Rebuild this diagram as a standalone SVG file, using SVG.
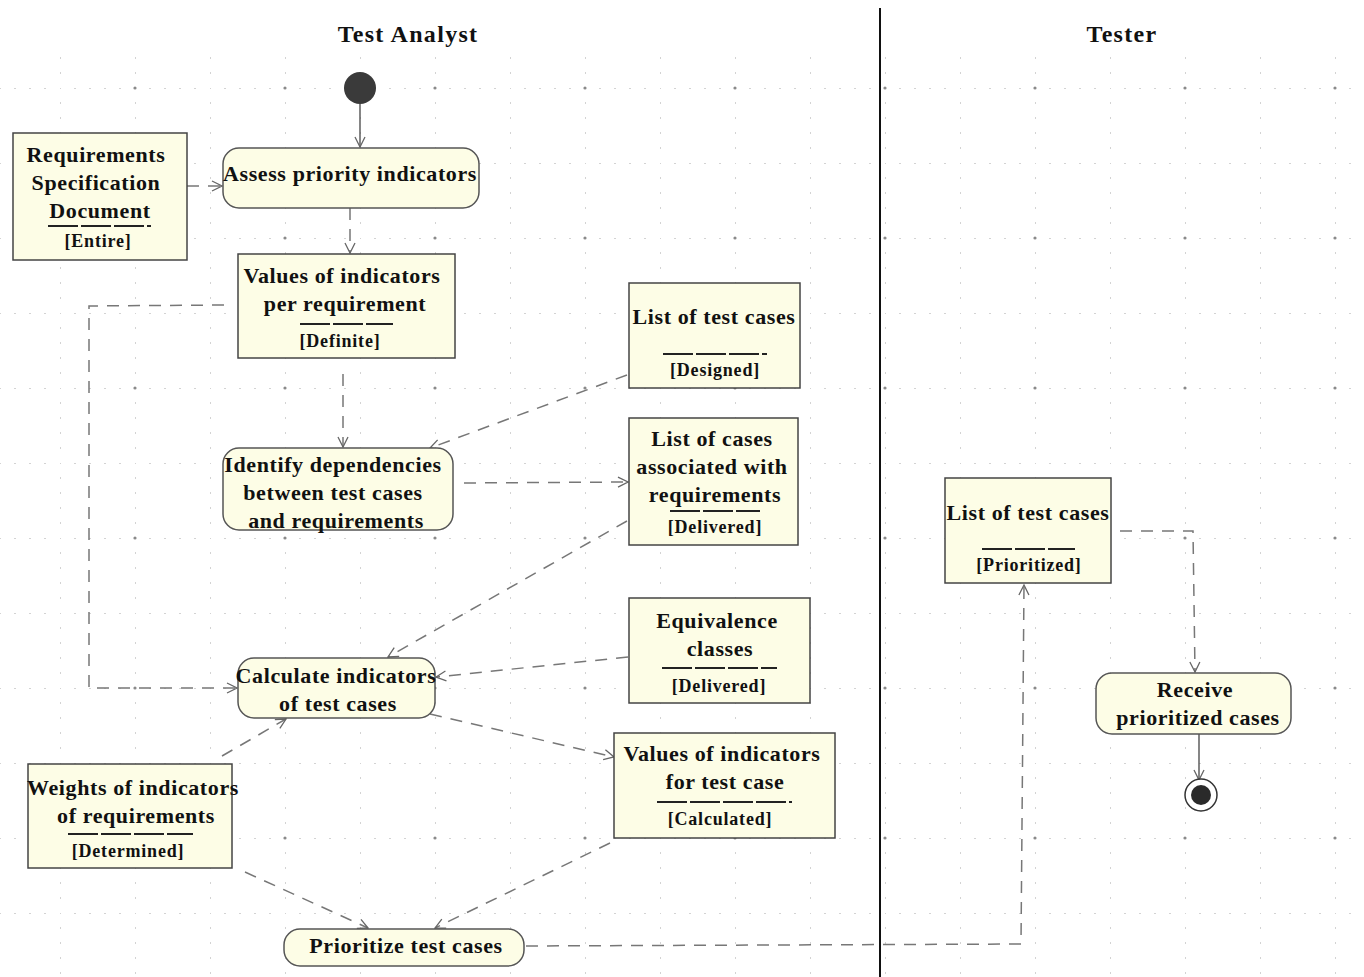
<svg xmlns="http://www.w3.org/2000/svg" width="1364" height="977" viewBox="0 0 1364 977">
<style>
.bg{fill:#ffffff}
.act{fill:#fdfde6;stroke:#555;stroke-width:1.5}
.obj{fill:#fdfde6;stroke:#444;stroke-width:1.5}
.t{font-family:"Liberation Serif","Times New Roman",serif;font-weight:bold;font-size:22px;letter-spacing:0.6px;fill:#111;text-anchor:middle}
.s{font-family:"Liberation Serif","Times New Roman",serif;font-weight:bold;font-size:18px;letter-spacing:0.8px;fill:#111;text-anchor:middle}
.title{font-family:"Liberation Serif","Times New Roman",serif;font-weight:bold;font-size:24px;letter-spacing:1.3px;fill:#111;text-anchor:middle}
.sep{stroke:#222;stroke-width:2;stroke-dasharray:30 3}
.flow{fill:none;stroke:#777;stroke-width:1.5;stroke-dasharray:12 9}
.ctrl{fill:none;stroke:#444;stroke-width:1.3}
</style>
<defs>
<pattern id="grid" x="60" y="13" width="75" height="75" patternUnits="userSpaceOnUse">
<g fill="#bdbdbd">
<circle cx="0" cy="0" r="0.9"/><circle cx="15" cy="0" r="0.9"/><circle cx="30" cy="0" r="0.9"/><circle cx="45" cy="0" r="0.9"/><circle cx="60" cy="0" r="0.9"/>
<circle cx="0" cy="15" r="0.9"/><circle cx="0" cy="30" r="0.9"/><circle cx="0" cy="45" r="0.9"/><circle cx="0" cy="60" r="0.9"/>
</g>
</pattern>
<pattern id="major" x="135" y="88" width="150" height="150" patternUnits="userSpaceOnUse">
<circle cx="0" cy="0" r="1.6" fill="#8a8a8a"/><circle cx="150" cy="0" r="1.6" fill="#8a8a8a"/><circle cx="0" cy="150" r="1.6" fill="#8a8a8a"/><circle cx="150" cy="150" r="1.6" fill="#8a8a8a"/>
</pattern>
<marker id="arr" viewBox="0 0 12 12" refX="11" refY="6" markerWidth="12" markerHeight="12" markerUnits="userSpaceOnUse" orient="auto">
<path d="M1,1 L11,6 L1,11" fill="none" stroke="#666" stroke-width="1.3"/>
</marker>
</defs>
<rect class="bg" x="0" y="0" width="1364" height="977"/>
<rect x="0" y="52" width="1364" height="925" fill="url(#grid)"/>
<rect x="0" y="52" width="1364" height="925" fill="url(#major)"/>

<g id="lanes">
<line x1="880" y1="8" x2="880" y2="977" stroke="#111" stroke-width="2"/>
<text class="title" x="408" y="42">Test Analyst</text>
<text class="title" x="1122" y="42">Tester</text>
</g>

<g id="connectors">
<line class="ctrl" x1="360" y1="104" x2="360" y2="147" marker-end="url(#arr)"/>
<line class="flow" x1="187" y1="186" x2="222" y2="186" marker-end="url(#arr)"/>
<line class="flow" x1="350" y1="208" x2="350" y2="253" marker-end="url(#arr)"/>
<polyline class="flow" points="224,305 89,306 89,688 237,688" marker-end="url(#arr)"/>
<line class="flow" x1="343" y1="374" x2="343" y2="447" marker-end="url(#arr)"/>
<line class="flow" x1="627" y1="375" x2="430" y2="448" marker-end="url(#arr)"/>
<line class="flow" x1="464" y1="483" x2="628" y2="482" marker-end="url(#arr)"/>
<line class="flow" x1="627" y1="521" x2="388" y2="657" marker-end="url(#arr)"/>
<line class="flow" x1="628" y1="657" x2="436" y2="677" marker-end="url(#arr)"/>
<line class="flow" x1="430" y1="714" x2="614" y2="757" marker-end="url(#arr)"/>
<line class="flow" x1="222" y1="756" x2="286" y2="719" marker-end="url(#arr)"/>
<line class="flow" x1="245" y1="872" x2="368" y2="928" marker-end="url(#arr)"/>
<line class="flow" x1="610" y1="843" x2="435" y2="928" marker-end="url(#arr)"/>
<polyline class="flow" points="526,946 1021,944 1024,585" marker-end="url(#arr)"/>
<polyline class="flow" points="1120,531 1193,531 1195,672" marker-end="url(#arr)"/>
<line class="ctrl" x1="1199" y1="734" x2="1199" y2="780" marker-end="url(#arr)"/>
</g>

<g id="initial"><circle cx="360" cy="88" r="16" fill="#3a3a3a"/></g>

<g id="assess">
<rect class="act" x="223" y="148" width="256" height="60" rx="16"/>
<text class="t" x="350" y="181">Assess priority indicators</text>
</g>

<g id="reqdoc">
<rect class="obj" x="13" y="133" width="174" height="127"/>
<text class="t" x="96" y="162">Requirements</text>
<text class="t" x="96" y="190">Specification</text>
<text class="t" x="100" y="218">Document</text>
<line class="sep" x1="48" y1="226" x2="151" y2="226"/>
<text class="s" x="98" y="247">[Entire]</text>
</g>

<g id="valuesreq">
<rect class="obj" x="238" y="254" width="217" height="104"/>
<text class="t" x="342" y="283">Values of indicators</text>
<text class="t" x="345" y="311">per requirement</text>
<line class="sep" x1="300" y1="324" x2="393" y2="324"/>
<text class="s" x="340" y="347">[Definite]</text>
</g>

<g id="designed">
<rect class="obj" x="629" y="283" width="171" height="105"/>
<text class="t" x="714" y="324">List of test cases</text>
<line class="sep" x1="663" y1="354" x2="767" y2="354"/>
<text class="s" x="715" y="376">[Designed]</text>
</g>

<g id="identify">
<rect class="act" x="223" y="448" width="230" height="82" rx="16"/>
<text class="t" x="333" y="472">Identify dependencies</text>
<text class="t" x="333" y="500">between test cases</text>
<text class="t" x="336" y="528">and requirements</text>
</g>

<g id="assoc">
<rect class="obj" x="629" y="418" width="169" height="127"/>
<text class="t" x="712" y="446">List of cases</text>
<text class="t" x="712" y="474">associated with</text>
<text class="t" x="715" y="502">requirements</text>
<line class="sep" x1="670" y1="511" x2="760" y2="511"/>
<text class="s" x="715" y="533">[Delivered]</text>
</g>

<g id="equiv">
<rect class="obj" x="629" y="598" width="181" height="105"/>
<text class="t" x="717" y="628">Equivalence</text>
<text class="t" x="720" y="656">classes</text>
<line class="sep" x1="662" y1="668" x2="777" y2="668"/>
<text class="s" x="719" y="692">[Delivered]</text>
</g>

<g id="calculate">
<rect class="act" x="238" y="658" width="197" height="60" rx="16"/>
<text class="t" x="336" y="683">Calculate indicators</text>
<text class="t" x="338" y="711">of test cases</text>
</g>

<g id="valuestc">
<rect class="obj" x="614" y="733" width="221" height="105"/>
<text class="t" x="722" y="761">Values of indicators</text>
<text class="t" x="725" y="789">for test case</text>
<line class="sep" x1="657" y1="802" x2="792" y2="802"/>
<text class="s" x="720" y="825">[Calculated]</text>
</g>

<g id="weights">
<rect class="obj" x="28" y="764" width="204" height="104"/>
<text class="t" x="133" y="795">Weights of indicators</text>
<text class="t" x="136" y="823">of requirements</text>
<line class="sep" x1="68" y1="834" x2="193" y2="834"/>
<text class="s" x="128" y="857">[Determined]</text>
</g>

<g id="prioritize">
<rect class="act" x="284" y="929" width="240" height="37" rx="16"/>
<text class="t" x="406" y="953">Prioritize test cases</text>
</g>

<g id="prioritized">
<rect class="obj" x="945" y="478" width="166" height="105"/>
<text class="t" x="1028" y="520">List of test cases</text>
<line class="sep" x1="982" y1="549" x2="1075" y2="549"/>
<text class="s" x="1029" y="571">[Prioritized]</text>
</g>

<g id="receive">
<rect class="act" x="1096" y="673" width="195" height="61" rx="16"/>
<text class="t" x="1195" y="697">Receive</text>
<text class="t" x="1198" y="725">prioritized cases</text>
</g>

<g id="final">
<circle cx="1201" cy="795" r="16" fill="#fff" stroke="#333" stroke-width="1.5"/>
<circle cx="1201" cy="795" r="10" fill="#2a2a2a"/>
</g>
</svg>
